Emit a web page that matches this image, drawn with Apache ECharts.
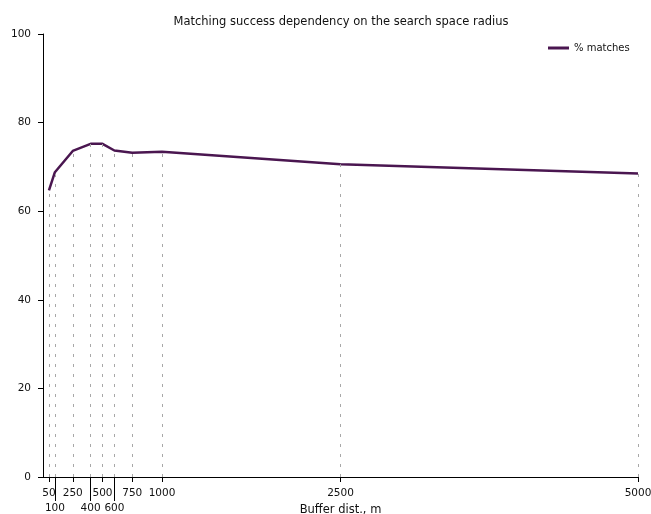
<!DOCTYPE html>
<html>
<head>
<meta charset="utf-8">
<script src="https://cdn.jsdelivr.net/npm/echarts@6/dist/echarts.min.js"></script>
<style>
  html, body { margin: 0; padding: 0; background: #fff; }
  #chart { width: 651px; height: 514px; }
</style>
</head>
<body>
<div id="chart"></div>
<script>
// Buffer distance (m) and share of matched records (%)
const bufferDist = [50, 100, 250, 400, 500, 600, 750, 1000, 2500, 5000];
const matchPct = [64.7, 68.8, 73.6, 75.2, 75.2, 73.7, 73.2, 73.4, 70.6, 68.5];

// Tick labels split over two rows so the close values stay readable
const ticksRow1 = [50, 250, 500, 750, 1000, 2500, 5000];
const ticksRow2 = [100, 400, 600];
const yTicks = [0, 20, 40, 60, 80, 100];

const FONT = 'DejaVu Sans';
const TXT = '#111';
const plain = v => String(v);

const pairs = bufferDist.map((x, i) => [x, matchPct[i]]);
const guideLines = pairs.map(p => [{ coord: [p[0], 0] }, { coord: [p[0], p[1]] }]);

const chart = echarts.init(document.getElementById('chart'), null, { renderer: 'canvas' });

chart.setOption({
  backgroundColor: '#fff',
  animation: false,
  title: {
    text: 'Matching success dependency on the search space radius',
    left: 336, top: 11, textAlign: 'center',
    textStyle: { fontFamily: FONT, fontSize: 11.5, fontWeight: 'normal', color: TXT }
  },
  legend: {
    left: 543, top: 38,
    icon: 'rect', itemWidth: 21, itemHeight: 3, itemGap: 6,
    textStyle: { fontFamily: FONT, fontSize: 10, color: TXT },
    data: ['% matches']
  },
  grid: { left: 43, right: 13, top: 34, bottom: 37, containLabel: false, outerBoundsMode: 'none' },
  xAxis: [
    {
      type: 'value', min: 0, max: 5000,
      name: 'Buffer dist., m', nameLocation: 'middle', nameGap: 27,
      nameTextStyle: { fontFamily: FONT, fontSize: 11.5, color: TXT },
      axisLine: { show: true, onZero: false, lineStyle: { color: '#000', width: 1 } },
      axisTick: { show: true, length: 5, customValues: ticksRow1, lineStyle: { color: '#000' } },
      axisLabel: { customValues: ticksRow1, formatter: plain, margin: 11, fontFamily: FONT, fontSize: 10.5, color: TXT },
      splitLine: { show: false }
    },
    {
      type: 'value', min: 0, max: 5000, position: 'bottom', gridIndex: 0,
      axisLine: { show: false },
      axisTick: { show: true, length: 24, inside: false, customValues: ticksRow2, lineStyle: { color: '#000' } },
      axisLabel: { customValues: ticksRow2, formatter: plain, margin: 26, fontFamily: FONT, fontSize: 10.5, color: TXT },
      splitLine: { show: false }
    }
  ],
  yAxis: {
    type: 'value', min: 0, max: 100,
    axisLine: { show: true, lineStyle: { color: '#000', width: 1 } },
    axisTick: { show: true, length: 5, customValues: yTicks, lineStyle: { color: '#000' } },
    axisLabel: { customValues: yTicks, margin: 12, fontFamily: FONT, fontSize: 10.5, color: TXT },
    splitLine: { show: false }
  },
  series: [
    {
      name: '% matches',
      type: 'line',
      xAxisIndex: 0,
      data: pairs,
      showSymbol: false,
      symbol: 'none',
      color: '#4a1650',
      lineStyle: { color: '#4a1650', width: 2.5 },
      markLine: {
        silent: true,
        symbol: ['none', 'none'],
        label: { show: false },
        lineStyle: { color: '#a8a8a8', width: 1, type: [3, 7] },
        data: guideLines
      },
      z: 3
    }
  ]
});
</script>
</body>
</html>
